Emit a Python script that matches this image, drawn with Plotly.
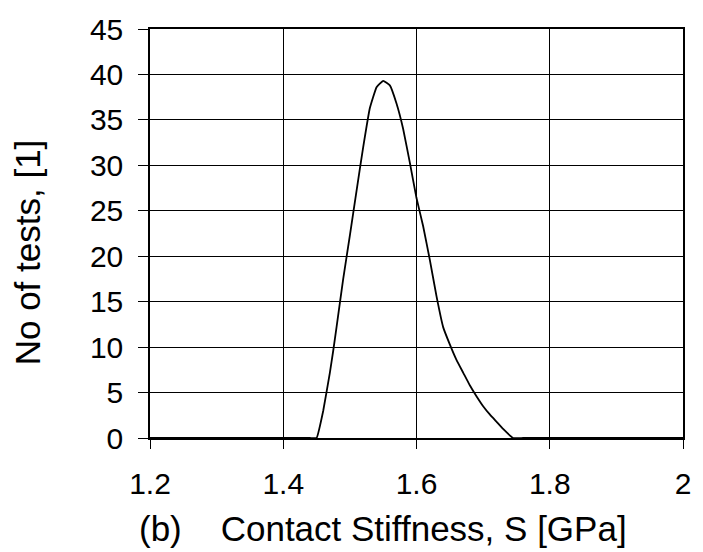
import plotly.graph_objects as go

# Contact stiffness distribution: number of tests per stiffness value
stiffness_gpa = [1.20, 1.30, 1.40, 1.44, 1.45, 1.46, 1.47, 1.475, 1.48, 1.49, 1.50,
                 1.51, 1.52, 1.53, 1.54, 1.55, 1.56, 1.57, 1.58, 1.59, 1.60,
                 1.61, 1.62, 1.63, 1.64, 1.65, 1.66, 1.67, 1.68, 1.69, 1.70,
                 1.71, 1.72, 1.73, 1.745, 1.76, 1.80, 1.90, 2.00]
n_tests = [0, 0, 0, 0, 0, 3.0, 7.2, 9.6, 12.2, 17.5, 22.3,
           27.2, 32.0, 36.3, 38.6, 39.3, 38.8, 36.8, 34.0, 30.3, 26.4,
           23.3, 19.6, 15.6, 12.2, 10.3, 8.6, 7.2, 5.8, 4.6, 3.5,
           2.6, 1.8, 1.0, 0, 0, 0, 0, 0]

x_ticks = [1.2, 1.4, 1.6, 1.8, 2.0]
x_tick_labels = ["1.2", "1.4", "1.6", "1.8", "2"]
y_ticks = [0, 5, 10, 15, 20, 25, 30, 35, 40, 45]

FONT = "Liberation Sans, Arial, Helvetica, sans-serif"

fig = go.Figure()
fig.add_trace(go.Scatter(
    x=stiffness_gpa, y=n_tests, mode="lines",
    line=dict(color="black", width=1.8, shape="spline", smoothing=0.3),
    showlegend=False, hoverinfo="skip",
))

fig.update_layout(
    width=703, height=552,
    margin=dict(l=150, r=15, t=23, b=114),
    paper_bgcolor="white", plot_bgcolor="white",
    font=dict(family=FONT, color="black"),
)

fig.update_xaxes(
    range=[1.2, 2.0], tickvals=x_ticks, ticktext=x_tick_labels,
    showgrid=True, gridcolor="black", gridwidth=1,
    showline=True, linecolor="black", linewidth=1.5, mirror=True,
    ticks="outside", ticklen=9, tickcolor="black", tickwidth=1,
    tickfont=dict(size=30, family=FONT, color="black"),
    ticklabelstandoff=9, zeroline=False,
)
fig.update_yaxes(
    range=[0, 45], tickvals=y_ticks,
    showgrid=True, gridcolor="black", gridwidth=1,
    showline=True, linecolor="black", linewidth=1.5, mirror=True,
    ticks="outside", ticklen=10, tickcolor="black", tickwidth=1,
    tickfont=dict(size=30, family=FONT, color="black"),
    ticklabelstandoff=9, zeroline=False,
)

# Axis titles
fig.add_annotation(
    text="(b)    Contact Stiffness, S [GPa]",
    xref="paper", yref="paper", x=-0.024, y=0, xanchor="left", yanchor="middle",
    yshift=-90, showarrow=False, font=dict(size=35, family=FONT, color="black"),
)
fig.add_annotation(
    text="No of tests, [1]", textangle=-90,
    xref="paper", yref="paper", x=-0.23, y=0.455, xanchor="center", yanchor="middle",
    showarrow=False, font=dict(size=35, family=FONT, color="black"),
)

fig.write_html("out.html")
